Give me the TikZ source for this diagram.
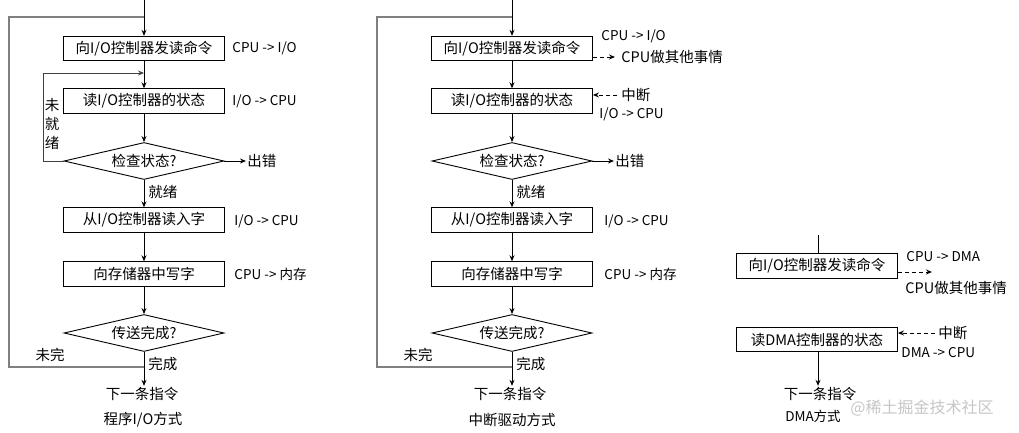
\documentclass[tikz,border=0pt]{standalone}
\usepackage{fontspec}
\setmainfont{Noto Sans CJK SC}
\usetikzlibrary{shapes.geometric,arrows.meta}
\tikzset{
	box/.style={draw, rectangle, minimum width=161pt, minimum height=24.5pt, inner sep=0pt, font=\fontsize{14.5}{16}\selectfont},
	decide/.style={draw, diamond, aspect=4.4, minimum width=160pt, minimum height=37pt, inner sep=0pt, font=\fontsize{14.5}{16}\selectfont},
	lbl/.style={inner sep=1pt, font=\fontsize{13.5}{15}\selectfont},
	txt/.style={inner sep=1pt, font=\fontsize{14.5}{16}\selectfont},
	arr/.style={-{Stealth[length=6pt,width=5pt]}},
	dasharr/.style={-{Stealth[length=6pt,width=5pt]}, dash pattern=on 4pt off 3pt},
	loopline/.style={draw=gray, line width=1.6pt}
}
\begin{document}
\begin{tikzpicture}[x=1pt, y=-1pt, line width=0.9pt]
					\useasboundingbox (0,0) rectangle (1019,433);
					% program I/O
					\coordinate (a0) at (144,0);
					\coordinate (aj) at (144,367);
					\coordinate (at) at (144,17);
					\node[box] (a1)at(144, 48.5) {向I/O控制器发读命令};
					\node[box] (a2)at(144, 101) {读I/O控制器的状态};
					\node[decide] (a3)at(144, 161) {检查状态?};
					\node[box] (a4)at(144, 220) {从I/O控制器读入字};
					\node[box] (a5)at(144, 274) {向存储器中写字};
					\node[decide] (a6)at(144, 333) {传送完成?};
					\node[txt] (a7)at(142, 394) {下一条指令};
					\node[txt] (a8)at(143, 420) {程序I/O方式};
					\node[lbl, anchor=west] (a1r)at(231, 48.5) {CPU -> I/O};
					\node[lbl, anchor=west] (a2r)at(231, 101) {I/O -> CPU};
					\node[lbl, anchor=west] (a4r)at(233, 221) {I/O -> CPU};
					\node[lbl, anchor=west] (a5r)at(233, 274) {CPU -> 内存};
					\node[txt, anchor=west] (aerr)at(246, 161) {出错};
					\node[txt, anchor=west] (aok)at(147, 192) {就绪};
					\node[txt, anchor=west] (adone)at(147, 364) {完成};
					\node[txt] (amore)at(50, 355) {未完};
					\node[txt, font=\fontsize{14.5}{19}\selectfont, align=center] (await)at(52, 124) {未\\就\\绪};
					\draw[arr] (a0) -- (a1.north);
					\draw[arr] (a1.south) -- (a2.north);
					\draw[arr] (a2.south) -- (a3.north);
					\draw[arr] (a3.south) -- (a4.north);
					\draw[arr] (a4.south) -- (a5.north);
					\draw[arr] (a5.south) -- (a6.north);
					\draw[arr] (a6.south) -- (a7.north -| a6.south);
					\draw[arr] (a3.east) -- (aerr.west);
					\draw[arr, draw=black!75] (a3.west) -| (43,73) -- (144,73);
					\draw[loopline] (aj) -| (9,17) -- (at);
					% interrupt driven
					\coordinate (b0) at (512,0);
					\coordinate (bj) at (512,367);
					\coordinate (bt) at (512,17);
					\node[box] (b1)at(512, 48.5) {向I/O控制器发读命令};
					\node[box] (b2)at(512, 101) {读I/O控制器的状态};
					\node[decide] (b3)at(512, 161) {检查状态?};
					\node[box] (b4)at(512, 220) {从I/O控制器读入字};
					\node[box] (b5)at(512, 274) {向存储器中写字};
					\node[decide] (b6)at(512, 333) {传送完成?};
					\node[txt] (b7)at(510, 394) {下一条指令};
					\node[txt] (b8)at(512, 420) {中断驱动方式};
					\node[lbl, anchor=west] (b1r)at(600, 36) {CPU -> I/O};
					\node[txt, anchor=west] (b1o)at(620, 57) {CPU做其他事情};
					\node[txt, anchor=west] (b2i)at(620, 95) {中断};
					\node[lbl, anchor=west] (b2r)at(598, 114) {I/O -> CPU};
					\node[lbl, anchor=west] (b4r)at(603, 221) {I/O -> CPU};
					\node[lbl, anchor=west] (b5r)at(603, 274) {CPU -> 内存};
					\node[txt, anchor=west] (berr)at(614, 161) {出错};
					\node[txt, anchor=west] (bok)at(515, 192) {就绪};
					\node[txt, anchor=west] (bdone)at(515, 364) {完成};
					\node[txt] (bmore)at(418, 355) {未完};
					\draw[arr] (b0) -- (b1.north);
					\draw[arr] (b1.south) -- (b2.north);
					\draw[arr] (b2.south) -- (b3.north);
					\draw[arr] (b3.south) -- (b4.north);
					\draw[arr] (b4.south) -- (b5.north);
					\draw[arr] (b5.south) -- (b6.north);
					\draw[arr] (b6.south) -- (b7.north -| b6.south);
					\draw[arr] (b3.east) -- (berr.west);
					\draw[dasharr, shorten >=5pt] (b1o.west -| b1.east) -- (b1o.west);
					\draw[dasharr, shorten <=3pt] (b2i.west) -- (b2i.west -| b2.east);
					\draw[loopline] (bj) -| (377,17) -- (bt);
					% DMA
					\coordinate (c0) at (818,235);
					\coordinate (cx) at (932,272);
					\node[box] (c1)at(817, 266) {向I/O控制器发读命令};
					\node[box] (c2)at(817, 339.5) {读DMA控制器的状态};
					\node[txt] (c3)at(820, 394) {下一条指令};
					\node[lbl, font=\fontsize{13.5}{15}\selectfont] (c4)at(813, 416) {DMA方式};
					\node[lbl, anchor=west] (c1r)at(905, 257) {CPU -> DMA};
					\node[txt, anchor=west] (c1o)at(904, 288) {CPU做其他事情};
					\node[txt, anchor=west] (c2i)at(937, 333) {中断};
					\node[lbl, anchor=west] (c2r)at(900, 353) {DMA -> CPU};
					\node[txt, font=\fontsize{16}{18}\selectfont, text=gray!45] (mark)at(922, 408) {@稀土掘金技术社区};
					\draw (c0) -- (c1.north -| c0);
					\draw[arr] (c2.south -| c0) -- (c3.north -| c0);
					\draw[dasharr] (c1.east |- cx) -- (cx);
					\draw[dasharr, shorten <=2pt] (c2i.west) -- (c2i.west -| c2.east);
				\end{tikzpicture}
\end{document}
